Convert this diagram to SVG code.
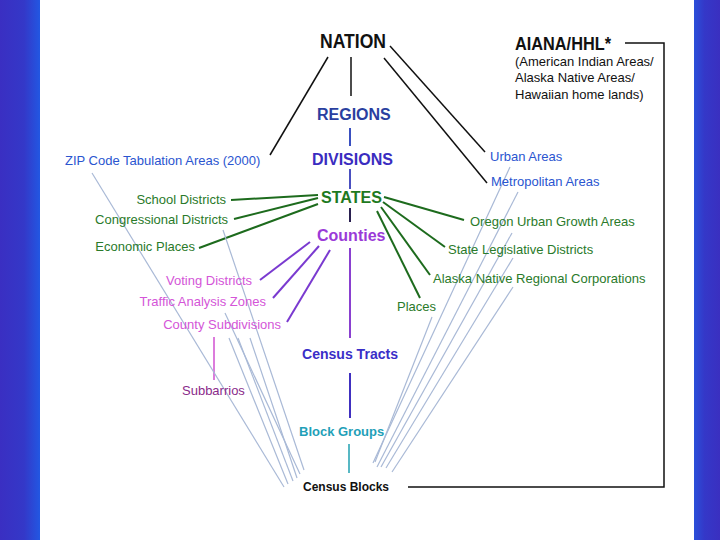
<svg xmlns="http://www.w3.org/2000/svg" width="720" height="540" viewBox="0 0 720 540">
<defs>
<linearGradient id="gl" x1="0" y1="0" x2="1" y2="0">
<stop offset="0" stop-color="#3a2fc2"/><stop offset="0.6" stop-color="#3438c8"/><stop offset="1" stop-color="#2257e2"/>
</linearGradient>
<linearGradient id="gr" x1="0" y1="0" x2="1" y2="0">
<stop offset="0" stop-color="#2a50da"/><stop offset="0.4" stop-color="#3438c8"/><stop offset="1" stop-color="#3a2fc0"/>
</linearGradient>
<style>
text{font-family:"Liberation Sans",Arial,sans-serif}
.b{font-weight:bold}
.lab{font-size:13px}
.blk{stroke:#111;stroke-width:1.5;fill:none}
.grn{stroke:#1d6b1d;stroke-width:2;fill:none}
.pur{stroke:#7a3ad0;stroke-width:2;fill:none}
.lb{stroke:#a9b9d6;stroke-width:1.2;fill:none}
.blu{fill:#2a55d0}
.gt{fill:#2a7a2a}
.pk{fill:#d455d8}
</style>
</defs>
<rect x="0" y="0" width="720" height="540" fill="#fff"/>
<rect x="0" y="0" width="40" height="540" fill="url(#gl)"/>
<rect x="694" y="0" width="26" height="540" fill="url(#gr)"/>

<g id="connectors">
<!-- NATION lines -->
<line class="blk" x1="328" y1="57" x2="270" y2="155"/>
<line class="blk" x1="351" y1="57" x2="351" y2="96"/>
<line class="blk" x1="390" y1="46" x2="485" y2="152"/>
<line class="blk" x1="384" y1="58" x2="487" y2="183"/>
<!-- AIANA bracket -->
<polyline class="blk" points="625,43 664,43 664,487 408,487"/>
<!-- vertical hierarchy -->
<line x1="350" y1="128" x2="350" y2="146" stroke="#3a50c0" stroke-width="2"/>
<line x1="350" y1="169" x2="350" y2="189" stroke="#4a50c0" stroke-width="2"/>
<line x1="350" y1="208" x2="350" y2="222" stroke="#2a2050" stroke-width="2"/>
<line x1="350" y1="248" x2="350" y2="338" stroke="#8a40d0" stroke-width="2"/>
<line x1="350" y1="373" x2="350" y2="418" stroke="#4030c0" stroke-width="2"/>
<line x1="349" y1="444" x2="349" y2="473" stroke="#20a0b0" stroke-width="1.5"/>
<!-- STATES green -->
<line class="grn" x1="318" y1="195" x2="231" y2="200"/>
<line class="grn" x1="318" y1="198" x2="234" y2="219"/>
<line class="grn" x1="318" y1="204" x2="199" y2="248"/>
<line class="grn" x1="384" y1="197" x2="464" y2="220"/>
<line class="grn" x1="383" y1="202" x2="445" y2="247"/>
<line class="grn" x1="381" y1="207" x2="430" y2="275"/>
<line class="grn" x1="377" y1="211" x2="420" y2="298"/>
<!-- Counties purple -->
<line class="pur" x1="310" y1="242" x2="260" y2="280"/>
<line class="pur" x1="319" y1="246" x2="273" y2="298"/>
<line class="pur" x1="330" y1="250" x2="287" y2="322"/>
<line x1="214" y1="337" x2="214" y2="380" stroke="#d050d0" stroke-width="1.5"/>
<!-- light blue to Census Blocks (left) -->
<line class="lb" x1="92" y1="173" x2="284" y2="487"/>
<line class="lb" x1="223" y1="230" x2="304" y2="470"/>
<line class="lb" x1="225" y1="313" x2="300" y2="474"/>
<line class="lb" x1="229" y1="338" x2="288" y2="484"/>
<line class="lb" x1="238" y1="338" x2="293" y2="481"/>
<line class="lb" x1="250" y1="338" x2="297" y2="478"/>
<!-- light blue (right) -->
<line class="lb" x1="510" y1="167" x2="373" y2="463"/>
<line class="lb" x1="518" y1="192" x2="377" y2="467"/>
<line class="lb" x1="512" y1="233" x2="381" y2="467"/>
<line class="lb" x1="513" y1="258" x2="386" y2="468"/>
<line class="lb" x1="513" y1="287" x2="392" y2="472"/>
<line class="lb" x1="432" y1="317" x2="375" y2="462"/>
</g>

<g id="nation"><text x="320" y="48" class="b" font-size="21" fill="#111" textLength="66" lengthAdjust="spacingAndGlyphs">NATION</text></g>
<g id="aiana">
<text x="515" y="50" class="b" font-size="18" fill="#111" textLength="96" lengthAdjust="spacingAndGlyphs">AIANA/HHL*</text>
<text x="515" y="66" class="lab" fill="#111">(American Indian Areas/</text>
<text x="515" y="82" class="lab" fill="#111">Alaska Native Areas/</text>
<text x="515" y="99" class="lab" fill="#111">Hawaiian home lands)</text>
</g>
<g id="regions"><text x="317" y="120" class="b" font-size="16" fill="#2a3fa0">REGIONS</text></g>
<g id="divisions"><text x="312" y="165" class="b" font-size="16" fill="#3a2cc0">DIVISIONS</text></g>
<g id="states"><text x="321" y="203" class="b" font-size="16" fill="#1f7a1f" textLength="61" lengthAdjust="spacingAndGlyphs">STATES</text></g>
<g id="counties"><text x="317" y="241" class="b" font-size="16" fill="#9a3ad8">Counties</text></g>
<g id="tracts"><text x="302" y="359" class="b" font-size="14" fill="#3a2ec8" textLength="96" lengthAdjust="spacingAndGlyphs">Census Tracts</text></g>
<g id="blockgroups"><text x="299" y="436" class="b" font-size="13" fill="#1fa0b8">Block Groups</text></g>
<g id="blocks"><text x="303" y="491" class="b" font-size="12" fill="#111">Census Blocks</text></g>

<g id="zcta"><text x="65" y="165" class="lab blu">ZIP Code Tabulation Areas (2000)</text></g>
<g id="school"><text x="226" y="204" class="lab gt" text-anchor="end">School Districts</text></g>
<g id="congress"><text x="228" y="224" class="lab gt" text-anchor="end">Congressional Districts</text></g>
<g id="economic"><text x="195" y="251" class="lab gt" text-anchor="end">Economic Places</text></g>
<g id="voting"><text x="252" y="285" class="lab pk" text-anchor="end">Voting Districts</text></g>
<g id="taz"><text x="266" y="306" class="lab pk" text-anchor="end">Traffic Analysis Zones</text></g>
<g id="cousub"><text x="281" y="329" class="lab pk" text-anchor="end">County Subdivisions</text></g>
<g id="subbarrios"><text x="182" y="395" class="lab" fill="#8a2a8a">Subbarrios</text></g>

<g id="urban"><text x="490" y="161" class="lab blu">Urban Areas</text></g>
<g id="metro"><text x="491" y="186" class="lab blu">Metropolitan Areas</text></g>
<g id="oregon"><text x="470" y="226" class="lab gt">Oregon Urban Growth Areas</text></g>
<g id="sld"><text x="448" y="254" class="lab gt">State Legislative Districts</text></g>
<g id="anrc"><text x="433" y="283" class="lab gt">Alaska Native Regional Corporations</text></g>
<g id="places"><text x="397" y="311" class="lab gt">Places</text></g>
</svg>
